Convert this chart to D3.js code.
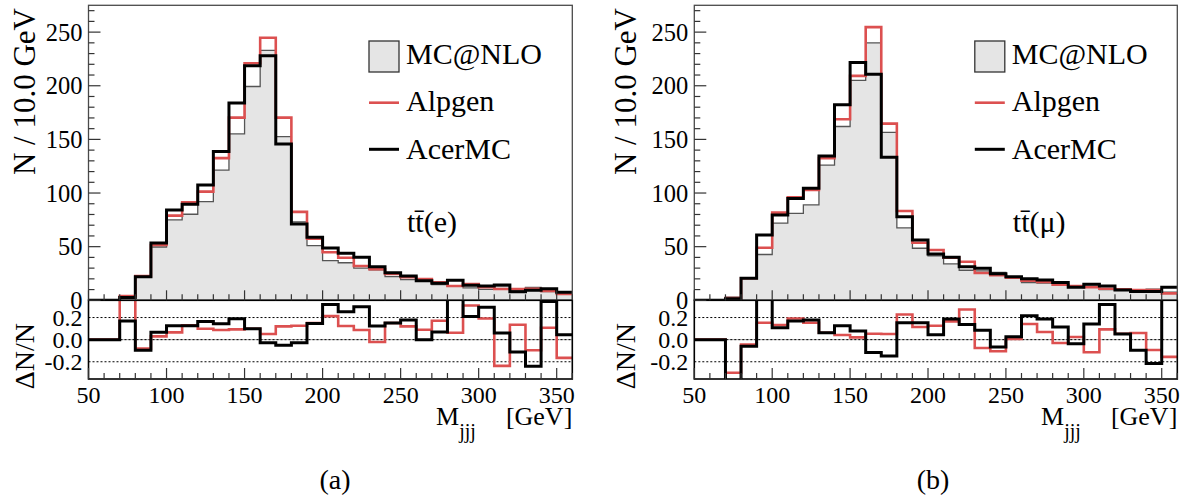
<!DOCTYPE html>
<html>
<head>
<meta charset="utf-8">
<script src="https://cdn.jsdelivr.net/npm/d3@7"></script>
<style>
  html, body { margin: 0; padding: 0; background: #fff; }
  svg { display: block; }
</style>
</head>
<body>
<svg id="chart" width="1189" height="504" font-family="'Liberation Serif', 'Times New Roman', serif"></svg>
<script>
// ---------- data ----------
const binEdges = [50,60,70,80,90,100,110,120,130,140,150,160,170,180,190,200,210,220,230,240,250,260,270,280,290,300,310,320,330,340,350,360];
const yTicks = [0,50,100,150,200,250];
const xTicks = [50,100,150,200,250,300,350];
const ratioTicks = [0.2,0.0,-0.2];
const ratioTickLabels = ["0.2","0.0","-0.2"];
const seriesNames = ["MC@NLO","Alpgen","AcerMC"];
const channelLabels = ["(e)","(\u03bc)"];
const captions = ["(a)","(b)"];

// panel (a): electron channel
const mcnloE  = [0,0,2.2,23,49.7,74.9,80.2,92,121.3,155.1,199.3,233,152.6,73.2,51,37,35,30,28.5,22,19.3,18.2,14.6,13,11.6,10.2,13.5,9,12,8,7.2];
const alpgenE = [0,0,4,22.5,51.6,78.9,91.4,101.3,132.5,170.3,221,244.7,170.3,82.4,57.5,44.8,39.7,32,28.9,24.5,21.5,19.8,16.8,13.3,15.2,12.1,10.5,10.5,10.8,8.8,6];
const acerE   = [0,0,2.5,22,53.4,84.2,89.5,107.5,138.6,184,218.6,227.9,145.8,71.2,58.8,48.8,43.8,40.1,31.3,25.7,22.7,18.2,15.9,18.8,14,13.3,14.3,8,9.3,10.8,7.5];
const ratioAlpgenE = [0,0,0.6,-0.081,0.03,0.066,0.129,0.099,0.087,0.093,0.099,0.051,0.12,0.126,0.15,0.213,0.123,0.087,-0.021,0.15,0.12,0.09,0.171,0.063,0.309,0.192,-0.237,0.135,-0.096,0.108,-0.165];
const ratioAcerE   = [0,0,0.168,-0.096,0.066,0.126,0.126,0.165,0.144,0.189,0.099,-0.027,-0.051,-0.027,0.147,0.318,0.252,0.297,0.123,0.15,0.177,0.0,0.069,0.45,0.21,0.294,0.06,-0.111,-0.24,0.345,0.045];

// panel (b): muon channel
const mcnloM  = [0,0,3,21,42.7,72,81,89,126,162,205,240,156.5,67.6,48.5,41.5,34,28,27.5,26,21.2,16.5,16,15,12.8,13.3,10,9.4,9,10.5,7.7];
const alpgenM = [0,0,2.1,20.5,49,81.7,96,102.9,132.5,168.8,209.2,254.7,164.7,83.3,53.7,46.9,39.8,36,25.5,23.5,21.1,18.3,17.1,14.6,13.3,12.1,10.8,10.2,9.6,9.6,6.5];
const acerM   = [0,0,1.5,20.5,60.9,79.6,94.8,104.5,134.6,182.2,221.7,210.8,133.4,78,56.3,43.2,40.1,31.3,29.8,24.8,22,20.2,18.9,16.5,12.1,14.9,13.3,9.6,8.1,8.1,12.1];
const ratioAlpgenM = [0,0,-0.30,-0.045,0.153,0.132,0.192,0.153,0.063,0.042,0.021,0.054,0.051,0.228,0.114,0.126,0.165,0.273,-0.075,-0.105,0.006,0.141,0.069,-0.03,0.024,-0.114,0.093,0.054,0.06,-0.093,-0.156];
const ratioAcerM   = [0,0,-0.6,-0.06,0.45,0.108,0.168,0.177,0.063,0.126,0.078,-0.117,-0.147,0.153,0.153,0.045,0.186,0.138,0.084,-0.066,0.027,0.216,0.186,0.114,-0.036,0.141,0.318,0.051,-0.096,-0.216,0.5];

// ---------- styles ----------
const RED = "#dc5050";
const FILL = "#e5e5e5";
const FRAME = "#4a4a4a";

const svg = d3.select("#chart");

function stepPoints(vals) {
  const pts = vals.map((v, i) => [binEdges[i], v]);
  pts.push([binEdges[binEdges.length - 1], vals[vals.length - 1]]);
  return pts;
}

function drawPanel(cfg, idx) {
  const g = svg.append("g");
  const x = d3.scaleLinear().domain([50, 360]).range([cfg.x0, cfg.x1]);
  const y = d3.scaleLinear().domain([0, 275]).range([cfg.yMain1, cfg.yMain0]);
  const yr = d3.scaleLinear().domain([-0.356, 0.356]).range([cfg.yR1, cfg.yR0]);

  const clipM = "clipM" + idx, clipR = "clipR" + idx;
  const defs = svg.append("defs");
  defs.append("clipPath").attr("id", clipM).append("rect")
    .attr("x", cfg.x0).attr("y", cfg.yMain0).attr("width", cfg.x1 - cfg.x0).attr("height", cfg.yMain1 - cfg.yMain0);
  defs.append("clipPath").attr("id", clipR).append("rect")
    .attr("x", cfg.x0).attr("y", cfg.yR0).attr("width", cfg.x1 - cfg.x0).attr("height", cfg.yR1 - cfg.yR0);

  const area = d3.area().curve(d3.curveStepAfter).x(d => x(d[0])).y0(y(0)).y1(d => y(d[1]));
  const line = d3.line().curve(d3.curveStepAfter).x(d => x(d[0])).y(d => y(d[1]));
  const rline = d3.line().curve(d3.curveStepAfter).x(d => x(d[0])).y(d => yr(d[1]));

  // main histograms
  const gm = g.append("g").attr("clip-path", `url(#${clipM})`);
  gm.append("path").attr("d", area(stepPoints(cfg.mc))).attr("fill", FILL).attr("stroke", "none");
  gm.append("path").attr("d", line(stepPoints(cfg.mc))).attr("fill", "none").attr("stroke", "#555").attr("stroke-width", 1.3);
  gm.append("path").attr("d", line(stepPoints(cfg.alp))).attr("fill", "none").attr("stroke", RED).attr("stroke-width", 2.6);
  gm.append("path").attr("d", line(stepPoints(cfg.acer))).attr("fill", "none").attr("stroke", "#000").attr("stroke-width", 3);

  // ratio reference lines
  const gr = g.append("g").attr("clip-path", `url(#${clipR})`);
  gr.append("line").attr("x1", cfg.x0).attr("x2", cfg.x1).attr("y1", yr(0)).attr("y2", yr(0))
    .attr("stroke", "#999").attr("stroke-width", 0.8);
  ratioTicks.forEach(t => {
    gr.append("line").attr("x1", cfg.x0).attr("x2", cfg.x1).attr("y1", yr(t)).attr("y2", yr(t))
      .attr("stroke", "#000").attr("stroke-width", 1).attr("stroke-dasharray", "2,2");
  });
  gr.append("path").attr("d", rline(stepPoints(cfg.ralp))).attr("fill", "none").attr("stroke", RED).attr("stroke-width", 2.6);
  gr.append("path").attr("d", rline(stepPoints(cfg.racer))).attr("fill", "none").attr("stroke", "#000").attr("stroke-width", 3);

  // frames
  g.append("rect").attr("x", cfg.x0).attr("y", cfg.yMain0).attr("width", cfg.x1 - cfg.x0).attr("height", cfg.yMain1 - cfg.yMain0)
    .attr("fill", "none").attr("stroke", FRAME).attr("stroke-width", 1.3);
  g.append("rect").attr("x", cfg.x0).attr("y", cfg.yR0).attr("width", cfg.x1 - cfg.x0).attr("height", cfg.yR1 - cfg.yR0)
    .attr("fill", "none").attr("stroke", "#000").attr("stroke-width", 1.6);

  // main y ticks (major & minor), inward
  const yMinor = d3.range(0, 271, 10);
  yMinor.forEach(v => {
    const major = v % 50 === 0;
    g.append("line").attr("x1", cfg.x0).attr("x2", cfg.x0 + (major ? 12 : 6))
      .attr("y1", y(v)).attr("y2", y(v)).attr("stroke", "#333").attr("stroke-width", 1.2);
  });
  yTicks.forEach(v => {
    g.append("text").attr("x", cfg.x0 - 6).attr("y", y(v) + 8.5).attr("text-anchor", "end")
      .attr("font-size", 24.5).text(v);
  });

  // x ticks on main and ratio bottoms
  binEdges.forEach(v => {
    const major = v % 50 === 0;
    g.append("line").attr("x1", x(v)).attr("x2", x(v)).attr("y1", cfg.yMain1).attr("y2", cfg.yMain1 - (major ? 10 : 6))
      .attr("stroke", "#333").attr("stroke-width", 1.2);
    g.append("line").attr("x1", x(v)).attr("x2", x(v)).attr("y1", cfg.yR1).attr("y2", cfg.yR1 - (major ? 11 : 6))
      .attr("stroke", "#333").attr("stroke-width", 1.2);
  });
  xTicks.forEach(v => {
    g.append("text").attr("x", x(v)).attr("y", 403).attr("text-anchor", "middle").attr("font-size", 24).text(v);
  });

  // ratio y labels
  ratioTicks.forEach((t, i) => {
    g.append("text").attr("x", cfg.x0 - 6).attr("y", yr(t) + 8.5).attr("text-anchor", "end")
      .attr("font-size", 24).text(ratioTickLabels[i]);
  });

  // axis titles
  g.append("text").attr("transform", `translate(${cfg.titleX},8) rotate(-90)`).attr("text-anchor", "end")
    .attr("font-size", 31).text("N / 10.0 GeV");
  g.append("text").attr("transform", `translate(${cfg.titleX - 1},323) rotate(-90)`).attr("text-anchor", "end")
    .attr("font-size", 28).text("\u0394N/N");

  const xt = g.append("text").attr("x", cfg.x1).attr("y", 425).attr("text-anchor", "end").attr("font-size", 26);
  xt.append("tspan").text("M");
  xt.append("tspan").attr("font-size", 20).attr("dy", 13).text("jjj");
  xt.append("tspan").attr("dy", -13).attr("dx", 30).text("[GeV]");

  // legend
  const lx = cfg.x0 + 280.5;
  g.append("rect").attr("x", lx).attr("y", 41).attr("width", 30).attr("height", 31)
    .attr("fill", FILL).attr("stroke", "#333").attr("stroke-width", 1.3);
  g.append("text").attr("x", lx + 37).attr("y", 63.5).attr("font-size", 30).text(seriesNames[0]);
  g.append("line").attr("x1", lx).attr("x2", lx + 30).attr("y1", 102.7).attr("y2", 102.7).attr("stroke", RED).attr("stroke-width", 2.6);
  g.append("text").attr("x", lx + 37).attr("y", 110.5).attr("font-size", 30).text(seriesNames[1]);
  g.append("line").attr("x1", lx).attr("x2", lx + 30).attr("y1", 149.3).attr("y2", 149.3).attr("stroke", "#000").attr("stroke-width", 3);
  g.append("text").attr("x", lx + 37).attr("y", 158.5).attr("font-size", 30).text(seriesNames[2]);

  const ch = g.append("text").attr("x", lx + 38).attr("y", 232).attr("font-size", 30);
  ch.append("tspan").text("t");
  ch.append("tspan").text("t\u0304");
  ch.append("tspan").text(cfg.channel);

  // caption
  g.append("text").attr("x", cfg.capX).attr("y", 489).attr("text-anchor", "middle").attr("font-size", 28).text(cfg.caption);
}

drawPanel({
  x0: 88.5, x1: 572.3, yMain0: 5.3, yMain1: 300.3, yR0: 300.3, yR1: 379,
  mc: mcnloE, alp: alpgenE, acer: acerE, ralp: ratioAlpgenE, racer: ratioAcerE,
  titleX: 35, capX: 335, channel: channelLabels[0], caption: captions[0]
}, 0);

drawPanel({
  x0: 694.3, x1: 1177.3, yMain0: 5.3, yMain1: 300.3, yR0: 300.3, yR1: 379,
  mc: mcnloM, alp: alpgenM, acer: acerM, ralp: ratioAlpgenM, racer: ratioAcerM,
  titleX: 636, capX: 933, channel: channelLabels[1], caption: captions[1]
}, 1);
</script>
</body>
</html>
